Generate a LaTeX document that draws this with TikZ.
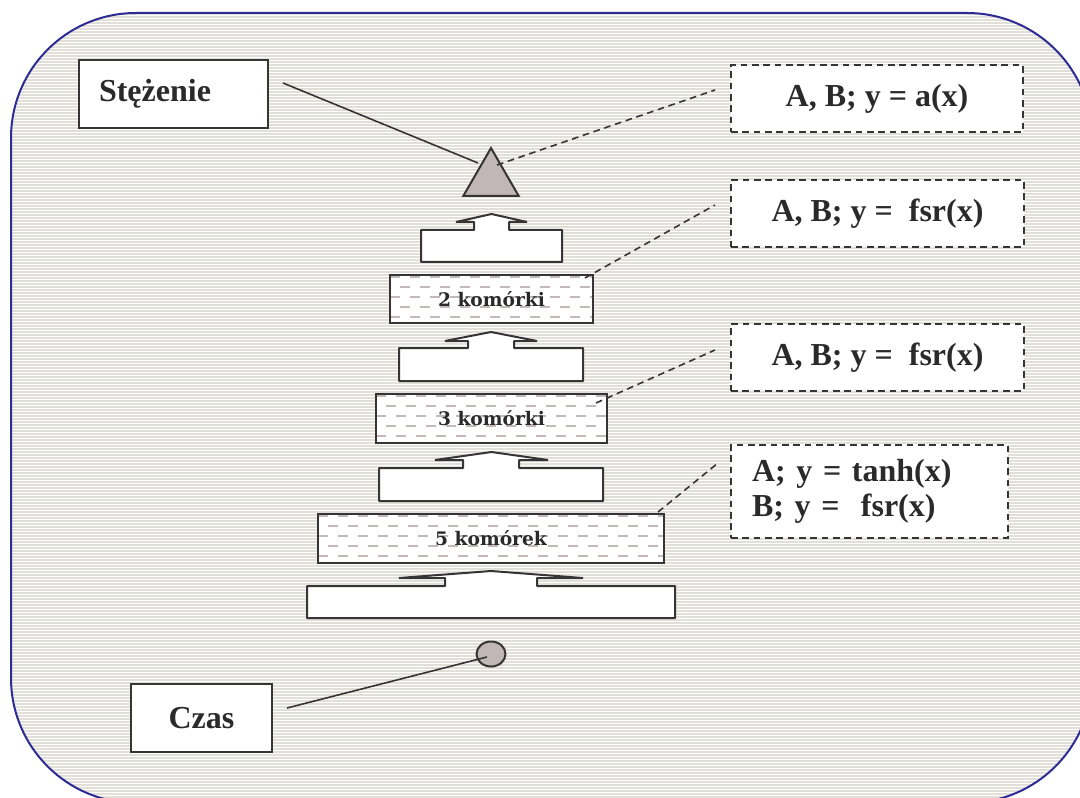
\documentclass[tikz,border=0pt]{standalone}
\usepackage{fontspec}
\setmainfont{Liberation Serif}
\newfontfamily\labelfont{Liberation Serif Bold}
\newfontfamily\layerfont{DejaVu Serif Bold}
\usetikzlibrary{shapes.geometric}

\definecolor{frameblue}{HTML}{2C2C94}
\definecolor{stripe}{HTML}{E2DED8}
\definecolor{ink}{HTML}{2A2A2A}
\definecolor{stroke}{HTML}{353535}
\definecolor{mauve}{HTML}{C1B7B7}
\definecolor{hatch}{HTML}{C2BAB8}

\tikzset{
  bigtext/.style={text=ink, font=\labelfont\fontsize{24}{26}\selectfont},
  plainbox/.style={bigtext, draw=stroke, line width=1.5pt, fill=white, inner sep=0pt},
  formbox/.style={bigtext, draw=stroke, line width=1.2pt, dash pattern=on 5pt off 3.5pt,
    fill=white, inner sep=0pt},
  layerbox/.style={draw=stroke, line width=1.5pt, fill=white, inner sep=0pt, text=ink,
    font=\layerfont\fontsize{14}{16}\selectfont,
    path picture={
      \foreach \k in {0,...,4}
        \draw[hatch, line width=1.8pt, dash pattern=on 7.5pt off 7.5pt]
          ([xshift=-\k*7.5pt, yshift=-1.5pt-\k*7.5pt]path picture bounding box.north west)
          -- ([yshift=-1.5pt-\k*7.5pt]path picture bounding box.north east);
    }},
  callout/.style={draw=stroke, line width=1.5pt, fill=white, line join=bevel},
  marker/.style={draw=stroke, fill=mauve, line width=1.5pt, inner sep=0pt},
  connector/.style={draw=stroke, line width=1.2pt},
  dashconn/.style={connector, dash pattern=on 5pt off 3.5pt},
}

\begin{document}
\begin{tikzpicture}[x=0.75pt, y=-0.75pt]
\useasboundingbox (0,0) rectangle (1080,798);

% striped panel with a rounded blue frame
\begin{scope}
  \clip[rounded corners=93.75pt] (11,13) rectangle (1092,803);
  \fill[white] (0,0) rectangle (1092,803);
  \foreach \y in {14,17,...,803}
    \draw[stripe, line width=0.8pt] (0,\y) -- (1092,\y);
\end{scope}
\draw[frameblue, line width=1.5pt, rounded corners=93.75pt] (11,13) rectangle (1092,803);

% up-arrow callouts between the layers
\draw[callout] (307,586) -- (445,586) -- (445,578) -- (399,578) -- (491,571)
  -- (583,578) -- (537,578) -- (537,586) -- (675,586) -- (675,618) -- (307,618) -- cycle;
\draw[callout] (379,468) -- (463,468) -- (463,460) -- (435,460) -- (491.5,452)
  -- (548,460) -- (519,460) -- (519,468) -- (603,468) -- (603,501) -- (379,501) -- cycle;
\draw[callout] (399,348) -- (468,348) -- (468,341) -- (445,341) -- (491,332)
  -- (537,341) -- (514,341) -- (514,348) -- (583,348) -- (583,381) -- (399,381) -- cycle;
\draw[callout] (421,230) -- (474,230) -- (474,222) -- (456,222) -- (491.5,214)
  -- (527,222) -- (509,222) -- (509,230) -- (562,230) -- (562,262) -- (421,262) -- cycle;

% network layers
\node[layerbox, minimum width=259.5pt, minimum height=36.75pt] (layer5) at (491,538.5) {5 komórek};
\node[layerbox, minimum width=173.25pt, minimum height=36.75pt] (layer3) at (491.5,418.5) {3 komórki};
\node[layerbox, minimum width=152.25pt, minimum height=36pt] (layer2) at (491.5,299) {2 komórki};

% output and input markers
\node[marker, regular polygon, regular polygon sides=3, minimum size=48pt] (out) at (491,180) {};
\node[marker, ellipse, minimum width=21.75pt, minimum height=18.75pt] (in) at (491,654) {};

% labels
\node[plainbox, minimum width=141.75pt, minimum height=51pt, text width=111.75pt,
  inner xsep=15pt, align=left] (conc) at (173.5,94) {Stężenie};
\node[plainbox, minimum width=105.75pt, minimum height=51pt] (time) at (201.5,718) {Czas};

% activation functions
\node[formbox, minimum width=219pt, minimum height=50.25pt] (fout) at (877,98.5) {A, B; y = a(x)};
\node[formbox, minimum width=219.75pt, minimum height=50.25pt] (f2) at (877.5,213.5) {A, B; y =\ \ fsr(x)};
\node[formbox, minimum width=219.75pt, minimum height=50.25pt] (f3) at (877.5,357.5) {A, B; y =\ \ fsr(x)};
\node[formbox, minimum width=207.75pt, minimum height=69.75pt, text width=176.25pt,
  inner xsep=15.75pt, align=left] (f5) at (869.5,491.5) {A; y = tanh(x)\\B; y =\ \ fsr(x)};

% connector end points
\coordinate (concEnd) at (283,83);
\coordinate (outL) at (478,163);
\coordinate (timeEnd) at (287,708);
\coordinate (inC) at (487,657);
\coordinate (outR) at (497,165);
\coordinate (foutEnd) at (715,90);
\coordinate (l2Corner) at (585,278);
\coordinate (f2End) at (715,205);
\coordinate (l3Corner) at (596,403);
\coordinate (f3End) at (715,350);
\coordinate (l5Corner) at (658,512);
\coordinate (f5End) at (718,463);

\draw[connector] (concEnd) -- (outL);
\draw[connector] (timeEnd) -- (inC);
\draw[dashconn] (outR) -- (foutEnd);
\draw[dashconn] (l2Corner) -- (f2End);
\draw[dashconn] (l3Corner) -- (f3End);
\draw[dashconn] (l5Corner) -- (f5End);
\end{tikzpicture}
\end{document}
